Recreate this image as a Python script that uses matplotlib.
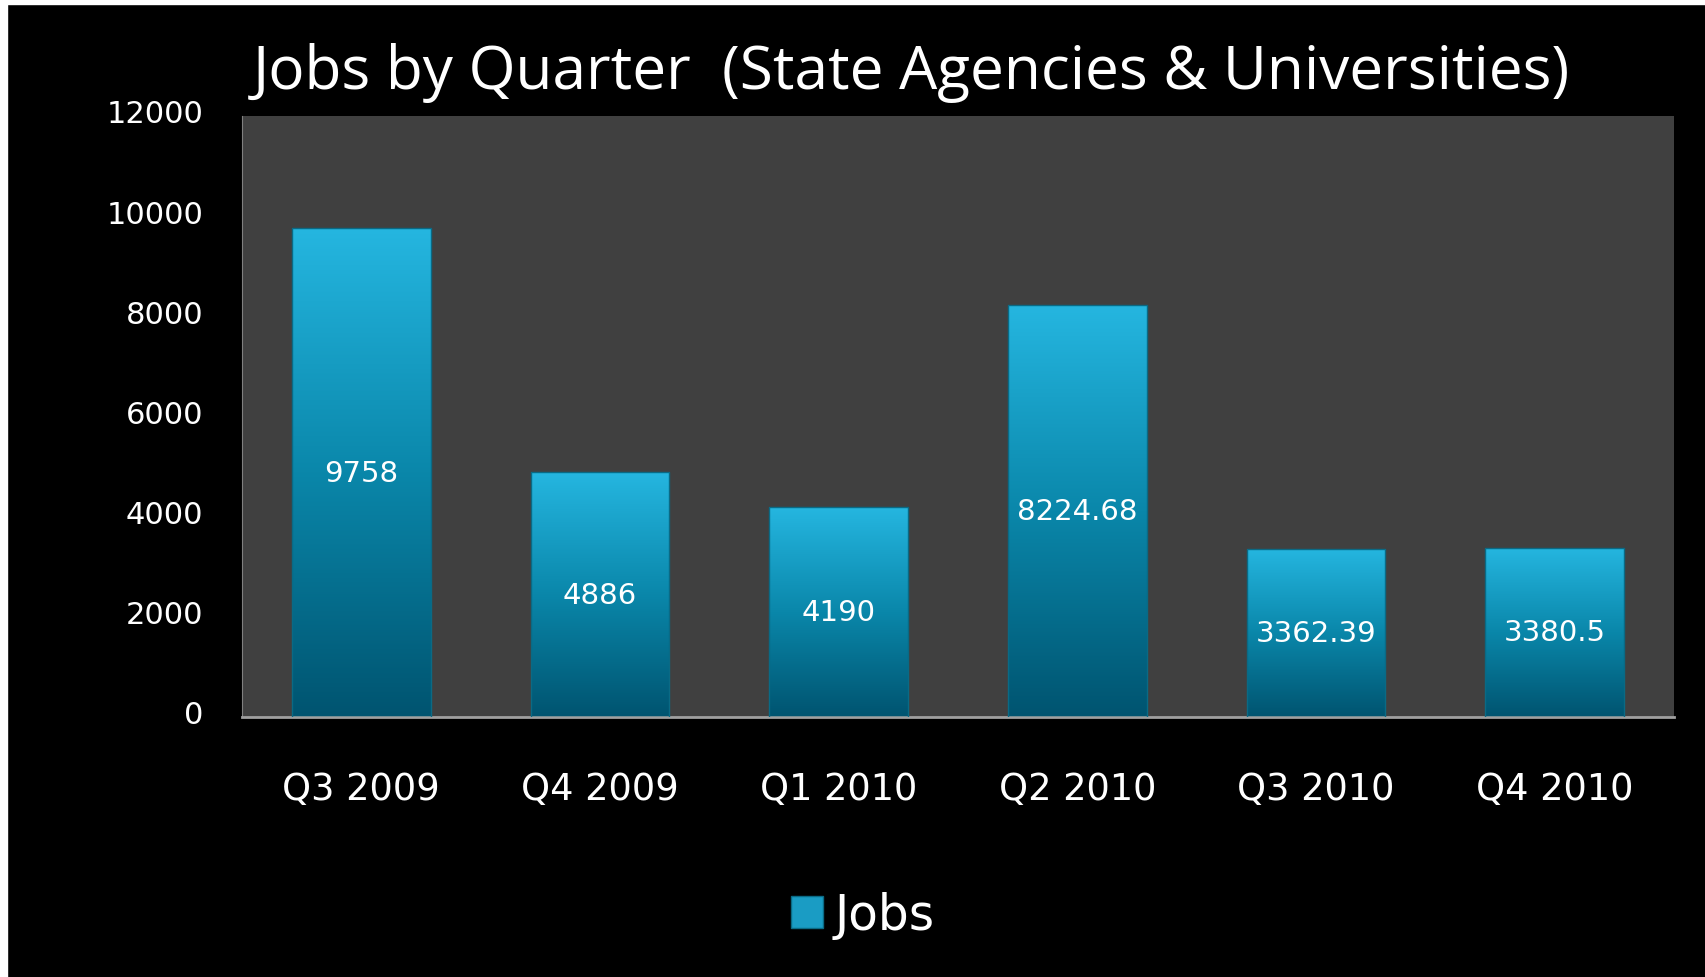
import matplotlib
matplotlib.use("Agg")
from matplotlib import pyplot as plt
from matplotlib.colors import LinearSegmentedColormap
from matplotlib.patches import Patch
from matplotlib.transforms import ScaledTranslation
import numpy as np

quarters = ['Q3 2009', 'Q4 2009', 'Q1 2010', 'Q2 2010', 'Q3 2010', 'Q4 2010']
jobs = [9758, 4886, 4190, 8224.68, 3362.39, 3380.5]
labels = ['9758', '4886', '4190', '8224.68', '3362.39', '3380.5']
yticks = [0, 2000, 4000, 6000, 8000, 10000, 12000]

plt.rcParams['font.family'] = ['DejaVu Sans']

fig = plt.figure(figsize=(17.05, 9.78), dpi=100, facecolor='black')
# thin white border on top and left like the screenshot
fig.patches.append(plt.Rectangle((0, 1 - 5 / 978), 1, 5 / 978, transform=fig.transFigure,
                                 color='white', zorder=0))
fig.patches.append(plt.Rectangle((0, 0), 7 / 1705, 1, transform=fig.transFigure,
                                 color='white', zorder=0))

ax = fig.add_axes([242 / 1705, 1 - 718 / 978, 1432 / 1705, 601 / 978])
ax.set_facecolor('#404040')

x = np.arange(len(quarters))
bars = ax.bar(x, jobs, 0.58, color='none', edgecolor='#0a6a85', linewidth=1, zorder=3)

cmap = LinearSegmentedColormap.from_list('bar', ['#005470', '#0a87aa', '#25b6e0'])
grad = np.linspace(0, 1, 256).reshape(-1, 1)
for b in bars:
    bx, bw, bh = b.get_x(), b.get_width(), b.get_height()
    im = ax.imshow(grad, extent=[bx, bx + bw, 0, bh], aspect='auto', cmap=cmap,
                   origin='lower', zorder=2)
    im.set_clip_path(b)

for xi, v, t in zip(x, jobs, labels):
    ax.text(xi, v / 2, t, ha='center', va='center', color='white', fontsize=21, zorder=4)

ax.set_xlim(-0.5, len(quarters) - 0.5)
ax.set_ylim(0, 12000)
ax.set_xticks(x)
ax.set_xticklabels(quarters, fontsize=26.5, color='white')
ax.set_yticks(yticks)
ax.set_yticklabels([str(v) for v in yticks], fontsize=22, color='white')
ax.tick_params(axis='both', length=0)
ax.tick_params(axis='x', pad=38)
ax.tick_params(axis='y', pad=28)
shift = ScaledTranslation(0, 0.05, fig.dpi_scale_trans)
for lbl in ax.get_yticklabels():
    lbl.set_transform(lbl.get_transform() + shift)
for s in ['top', 'right']:
    ax.spines[s].set_visible(False)
ax.spines['left'].set_color('#808080')
ax.spines['bottom'].set_color('#a0a0a0')
ax.spines['bottom'].set_linewidth(2)

fig.text(911 / 1705, 1 - 89 / 978, 'Jobs by Quarter  (State Agencies & Universities)',
         ha='center', va='baseline', color='white', fontsize=43.5, family='Open Sans')

fig.legend(handles=[Patch(facecolor='#1a9cc4', edgecolor='#0a6a85')], labels=['Jobs'],
           loc='center', bbox_to_anchor=(863 / 1705, 1 - 916 / 978), frameon=False,
           fontsize=35, labelcolor='white', handlelength=0.65, handleheight=0.65,
           handletextpad=0.25)

fig.savefig('out.png', dpi=100, facecolor='black')
